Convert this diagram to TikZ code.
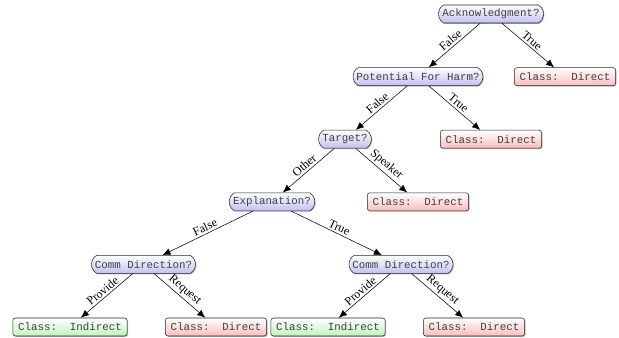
\documentclass[tikz,border=0pt]{standalone}
\usepackage{fontspec}
\setmainfont{Liberation Serif}
\setmonofont{Liberation Mono}
\usepackage{tikz}
\usetikzlibrary{
  shapes.misc,
  arrows.meta,
  shadows,
  positioning
}
\definecolor{AskBlue}{RGB}{192,192,242}
\definecolor{LeafRed}{RGB}{250,188,188}
\definecolor{LeafGreen}{RGB}{192,244,192}
\tikzset{
  basenode/.style={draw=black!85,thin,
    font=\fontsize{8.1}{9.7}\selectfont\ttfamily,text=black!75,
    minimum height=13.5pt,inner ysep=1pt,
    drop shadow={shadow xshift=0.7pt,shadow yshift=-0.7pt,fill=black!55}},
  askbox/.style={basenode,rounded rectangle,rounded rectangle arc length=120,
    inner xsep=2pt,top color=white,bottom color=AskBlue},
  directbox/.style={basenode,rectangle,rounded corners=2pt,
    inner xsep=4pt,top color=white,bottom color=LeafRed},
  indirectbox/.style={basenode,rectangle,rounded corners=2pt,
    inner xsep=4pt,top color=white,bottom color=LeafGreen},
  arrow/.style={-{Latex[length=6pt,width=5pt]},thin,color=black},
  edgelbl/.style={sloped,above,midway,inner sep=1.5pt,
    font=\fontsize{9}{10}\selectfont}
}

\begin{document}
\begin{tikzpicture}[x=0.75pt,y=-0.75pt]
  \useasboundingbox (0,0) rectangle (619,338);
  \node[askbox] (ack) at (491,14) {Acknowledgment?};
  \node[directbox] (d1) at (565,76.6) {Class:\ \ Direct};
  \node[askbox] (harm) at (418,76.6) {Potential For Harm?};
  \node[directbox] (d2) at (491,139.2) {Class:\ \ Direct};
  \node[askbox] (target) at (345,139.2) {Target?};
  \node[directbox] (d3) at (418,201.8) {Class:\ \ Direct};
  \node[askbox] (expl) at (272,201.8) {Explanation?};
  \node[askbox] (comm1) at (143.5,264.4) {Comm Direction?};
  \node[askbox] (comm2) at (401,264.4) {Comm Direction?};
  \node[indirectbox] (i1) at (70,327) {Class:\ \ Indirect};
  \node[directbox] (d4) at (216,327) {Class:\ \ Direct};
  \node[indirectbox] (i2) at (328,327) {Class:\ \ Indirect};
  \node[directbox] (d5) at (474,327) {Class:\ \ Direct};

  \draw[arrow] (ack) -- node[edgelbl] {False} (harm);
  \draw[arrow] (ack) -- node[edgelbl] {True} (d1);
  \draw[arrow] (harm) -- node[edgelbl] {False} (target);
  \draw[arrow] (harm) -- node[edgelbl] {True} (d2);
  \draw[arrow] (target) -- node[edgelbl] {Other} (expl);
  \draw[arrow] (target) -- node[edgelbl] {Speaker} (d3);
  \draw[arrow] (expl) -- node[edgelbl] {False} (comm1);
  \draw[arrow] (expl) -- node[edgelbl] {True} (comm2);
  \draw[arrow] (comm1) -- node[edgelbl] {Provide} (i1);
  \draw[arrow] (comm1) -- node[edgelbl] {Request} (d4);
  \draw[arrow] (comm2) -- node[edgelbl] {Provide} (i2);
  \draw[arrow] (comm2) -- node[edgelbl] {Request} (d5);
\end{tikzpicture}
\end{document}
